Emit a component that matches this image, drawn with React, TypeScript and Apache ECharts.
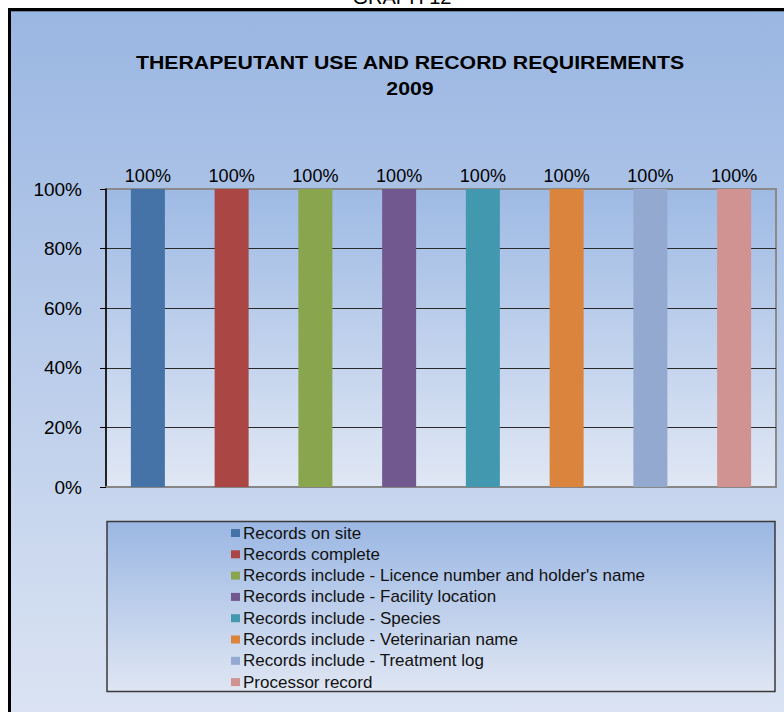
import React, { useEffect, useRef } from 'react';
import * as echarts from 'echarts';

const pageLabel = 'GRAPH 12';
const titleLine1 = 'THERAPEUTANT USE AND RECORD REQUIREMENTS';
const titleLine2 = '2009';
const categories = [
  'Records on site',
  'Records complete',
  "Records include - Licence number and holder's name",
  'Records include - Facility location',
  'Records include - Species',
  'Records include - Veterinarian name',
  'Records include - Treatment log',
  'Processor record',
];
const values = [100, 100, 100, 100, 100, 100, 100, 100];
const colors = ['#4572A7', '#AA4643', '#89A54E', '#71588F', '#4198AF', '#DB843D', '#93A9CF', '#D19392'];
const yMin = 0;
const yMax = 100;
const yStep = 20;

const FONT = 'Liberation Sans, Arial, sans-serif';

function grad(top: string, bottom: string) {
  return new echarts.graphic.LinearGradient(0, 0, 0, 1, [
    { offset: 0, color: top },
    { offset: 1, color: bottom },
  ]);
}

export default function App() {
  const ref = useRef<HTMLDivElement>(null);
  useEffect(() => {
    if (!ref.current) return;
    const chart = echarts.init(ref.current, null, { renderer: 'svg' });
    const option: any = {
      animation: false,
      graphic: [
        { type: 'rect', z: -30, shape: { x: 8, y: 8, width: 800, height: 800 }, style: { fill: '#000000' } },
        { type: 'rect', z: -20, shape: { x: 11, y: 11, width: 790, height: 760 }, style: { fill: grad('#9AB6E2', '#E0E7F4') } },
        { type: 'line', z: -19, shape: { x1: 11, y1: 11.5, x2: 784, y2: 11.5 }, style: { stroke: '#6d7fa0', lineWidth: 1 } },
        {
          type: 'text', z: 10, x: 402, y: 7,
          style: { text: pageLabel, fontSize: 20, fontFamily: FONT, fill: '#000', textAlign: 'center', textVerticalAlign: 'bottom' },
        },
        {
          type: 'text', z: 10, x: 410, y: 62, scaleX: 1.12,
          style: { text: titleLine1, fontSize: 19, fontWeight: 'bold', fontFamily: FONT, fill: '#000', textAlign: 'center', textVerticalAlign: 'middle' },
        },
        {
          type: 'text', z: 10, x: 410, y: 88, scaleX: 1.12,
          style: { text: titleLine2, fontSize: 19, fontWeight: 'bold', fontFamily: FONT, fill: '#000', textAlign: 'center', textVerticalAlign: 'middle' },
        },
        {
          type: 'rect', z: -5, shape: { x: 107, y: 521.5, width: 668, height: 170 },
          style: { fill: grad('#9BB7E3', '#DFE6F3'), stroke: '#3a3a3a', lineWidth: 1.5 },
        },
      ],
      grid: {
        left: 106, right: 8, top: 189, bottom: 225,
        show: true,
        backgroundColor: grad('#9EBAE4', '#E0E7F4'),
        borderColor: '#8a8a8a',
        borderWidth: 2,
        containLabel: false,
      },
      legend: {
        orient: 'vertical',
        left: 231,
        top: 524.5,
        padding: 0,
        itemGap: 4.3,
        itemWidth: 9,
        itemHeight: 8,
        icon: 'rect',
        data: categories,
        textStyle: { fontSize: 17, lineHeight: 17, fontFamily: FONT, color: '#111', padding: [0, 0, 0, -2] },
      },
      xAxis: {
        type: 'category',
        data: categories,
        axisLine: { show: true, lineStyle: { color: '#868686', width: 2 } },
        axisTick: { show: false },
        axisLabel: { show: false },
        splitLine: { show: false },
      },
      yAxis: {
        type: 'value',
        min: yMin,
        max: yMax,
        interval: yStep,
        axisLine: { show: true, lineStyle: { color: '#000', width: 1.5 } },
        axisTick: { show: true, length: 6, lineStyle: { color: '#000', width: 1 } },
        axisLabel: { formatter: '{value}%', fontSize: 19, fontFamily: FONT, color: '#000', margin: 24 },
        splitLine: {
          show: true,
          lineStyle: { color: ['#868686', '#2a2a2a', '#2a2a2a', '#2a2a2a', '#2a2a2a', '#8a8a8a'], width: 1 },
        },
      },
      series: categories.map((name, i) => ({
        name,
        type: 'bar',
        stack: 'all',
        barWidth: 34,
        data: categories.map((_, j) => (j === i ? values[i] : '-')),
        itemStyle: { color: colors[i] },
        label: {
          show: true,
          position: 'top',
          distance: 4,
          formatter: '{c}%',
          fontSize: 18,
          fontFamily: FONT,
          color: '#000',
        },
      })),
    };
    chart.setOption(option);
    return () => chart.dispose();
  }, []);
  return <div ref={ref} style={{ position: 'absolute', left: 0, top: 0, width: 784, height: 712 }} />;
}
